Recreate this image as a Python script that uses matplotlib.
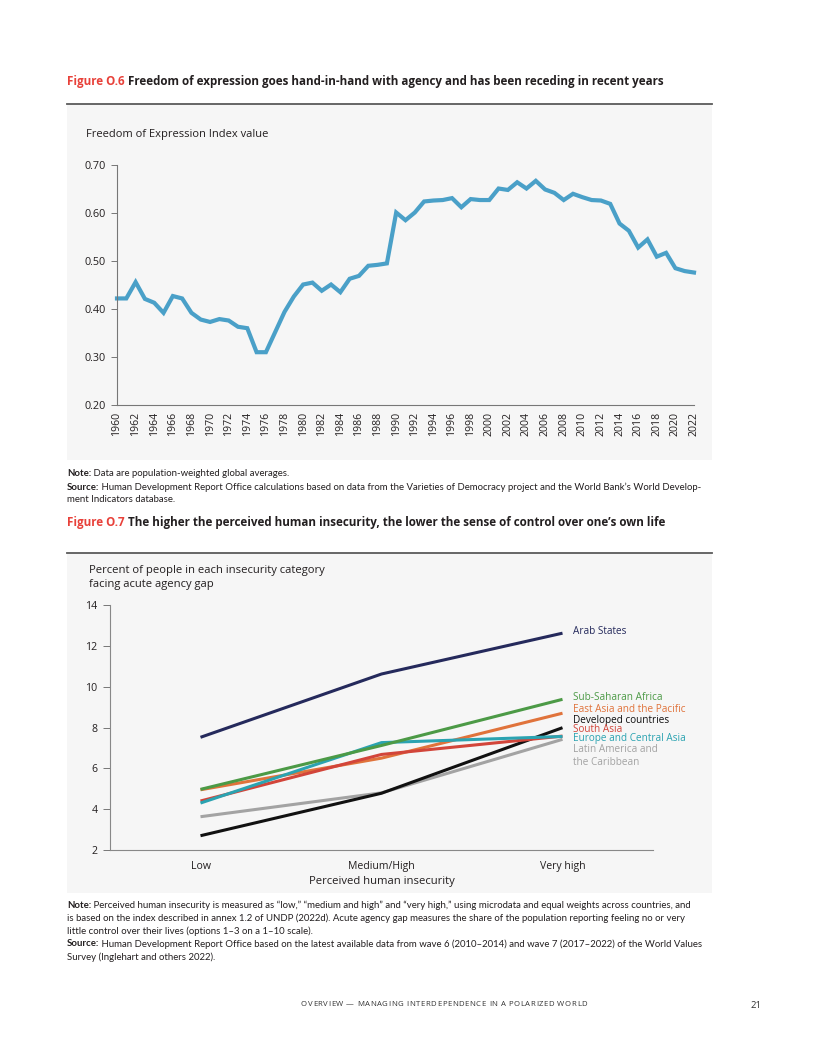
import numpy as np
import matplotlib as mpl; mpl.use("Agg")
import matplotlib.pyplot as plt
from matplotlib.patches import Rectangle
from matplotlib.lines import Line2D

mpl.rcParams.update({"font.family": ["Open Sans", "DejaVu Sans"], "axes.linewidth": 0.8})
NOTE_FONT = ["Lato", "DejaVu Sans"]

W, H = 816, 1056

# --- Figure O.6 data ---
YEARS = list(range(1960, 2023))
FOE = [0.422, 0.422, 0.456, 0.421, 0.413, 0.392, 0.427, 0.422, 0.392, 0.378,
       0.373, 0.379, 0.376, 0.363, 0.360, 0.310, 0.310, 0.352, 0.394, 0.426,
       0.451, 0.455, 0.438, 0.451, 0.435, 0.463, 0.469, 0.490, 0.492, 0.495,
       0.601, 0.585, 0.601, 0.624, 0.626, 0.627, 0.631, 0.612, 0.629, 0.627,
       0.627, 0.651, 0.648, 0.664, 0.651, 0.667, 0.649, 0.642, 0.627, 0.640,
       0.633, 0.627, 0.626, 0.619, 0.578, 0.563, 0.528, 0.545, 0.509, 0.517,
       0.485, 0.479, 0.476]
FOE_YTICKS = [0.20, 0.30, 0.40, 0.50, 0.60, 0.70]

# --- Figure O.7 data ---
CATS = ["Low", "Medium/High", "Very high"]
REGIONS = ["Arab States", "Sub-Saharan Africa", "East Asia and the Pacific",
           "Developed countries", "South Asia", "Europe and Central Asia",
           "Latin America and\nthe Caribbean"]
ARAB = [7.52, 10.62, 12.62]
SSA = [4.97, 7.12, 9.38]
EAP = [4.95, 6.50, 8.70]
DEV = [2.70, 4.78, 7.99]
SAS = [4.40, 6.68, 7.58]
ECA = [4.30, 7.26, 7.56]
LAC = [3.63, 4.80, 7.42]
REGION_COLORS = ["#252a5c", "#4c9a46", "#e0733b", "#111111", "#d2453a", "#2ba3b1", "#a3a3a3"]
LABEL_Y = [632, 697, 709, 720, 730, 739, 756]   # label centres, px

RED = "#e8413a"
DARK = "#231f20"


def fx(x): return x / W
def fy(y): return 1 - y / H


fig = plt.figure(figsize=(W / 100, H / 100), dpi=100)
fig.patch.set_facecolor("white")
R = fig.canvas.get_renderer()


def runs(x, y, parts, size, family=None, va="center"):
    """draw consecutive text runs [(text, weight, color)] starting at pixel x"""
    cx = x
    for txt, wt, col in parts:
        kw = {"family": family} if family else {}
        t = fig.text(fx(cx), fy(y), txt, fontsize=size, fontweight=wt, color=col,
                     ha="left", va=va, **kw)
        cx += t.get_window_extent(renderer=R).width
    return cx


def tracked(xc, y, s, size, track, color):
    """letter-spaced text centred at pixel xc"""
    ts = [fig.text(0, fy(y), ch, fontsize=size, color=color, ha="left", va="center") for ch in s]
    ws = [t.get_window_extent(renderer=R).width if ch != " " else size * 0.35 for t, ch in zip(ts, s)]
    total = sum(ws) + track * (len(s) - 1)
    cx = xc - total / 2
    for t, w in zip(ts, ws):
        t.set_x(fx(cx)); cx += w + track


def panel(y0, y1):
    fig.add_artist(Rectangle((fx(67), fy(y1)), fx(712) - fx(67), fy(y0) - fy(y1),
                             transform=fig.transFigure, fc="#f6f6f6", ec="none", zorder=0))
    fig.add_artist(Line2D([fx(67), fx(712)], [fy(y0), fy(y0)], transform=fig.transFigure,
                          color="#5a5a5a", lw=1.3))


# ---------------- Figure O.6 ----------------
runs(67, 81, [("Figure O.6 ", "bold", RED),
              ("Freedom of expression goes hand-in-hand with agency and has been receding in recent years", "bold", DARK)], 8.4)
panel(104, 460)
fig.text(fx(86), fy(135), "Freedom of Expression Index value", fontsize=8.0, color=DARK, va="center")

ax1 = fig.add_axes([fx(117), fy(405), fx(694) - fx(117), fy(165) - fy(405)])
ax1.set_facecolor("none")
ax1.plot(YEARS, FOE, color="#4aa0c8", lw=3.0, solid_joinstyle="miter", clip_on=False)
ax1.set_xlim(1960, 2022)
ax1.set_ylim(0.20, 0.70)
ax1.set_yticks(FOE_YTICKS)
ax1.set_yticklabels([f"{v:.2f}" for v in FOE_YTICKS], fontsize=7.8, color=DARK)
ax1.set_xticks(YEARS[::2])
ax1.set_xticklabels([str(y) for y in YEARS[::2]], rotation=90, fontsize=7.6, color=DARK)
ax1.tick_params(axis="x", length=0, pad=5)
ax1.tick_params(axis="y", length=4, width=0.7, color="#777", pad=4)
for s in ["top", "right"]:
    ax1.spines[s].set_visible(False)
for s in ["left", "bottom"]:
    ax1.spines[s].set_color("#777")

runs(67, 474, [("Note:", "bold", DARK), (" Data are population-weighted global averages.", "normal", DARK)], 6.9, NOTE_FONT)
runs(67, 487, [("Source:", "bold", DARK), (" Human Development Report Office calculations based on data from the Varieties of Democracy project and the World Bank\u2019s World Develop-", "normal", DARK)], 6.9, NOTE_FONT)
runs(67, 499, [("ment Indicators database.", "normal", DARK)], 6.9, NOTE_FONT)

# ---------------- Figure O.7 ----------------
runs(67, 522, [("Figure O.7 ", "bold", RED),
               ("The higher the perceived human insecurity, the lower the sense of control over one\u2019s own life", "bold", DARK)], 8.4)
panel(553, 893)
fig.text(fx(89), fy(571), "Percent of people in each insecurity category", fontsize=8.1, color=DARK, va="center")
fig.text(fx(89), fy(584), "facing acute agency gap", fontsize=8.1, color=DARK, va="center")

ax2 = fig.add_axes([fx(110), fy(850), fx(653) - fx(110), fy(605) - fy(850)])
ax2.set_facecolor("none")
series = [ARAB, SSA, EAP, DEV, SAS, ECA, LAC]
draw_order = [6, 3, 2, 4, 5, 1, 0]
xs = np.arange(len(CATS))
for i in draw_order:
    ax2.plot(xs, series[i], color=REGION_COLORS[i], lw=2.2, solid_capstyle="butt")
ax2.set_xlim(-0.5, 2.5)
ax2.set_ylim(2, 14)
ax2.set_yticks(range(2, 15, 2))
ax2.set_yticklabels([str(v) for v in range(2, 15, 2)], fontsize=7.6, color=DARK)
ax2.set_xticks(xs)
ax2.set_xticklabels(CATS, fontsize=7.6, color=DARK)
ax2.tick_params(axis="x", length=0, pad=8)
ax2.tick_params(axis="y", length=5, width=0.7, color="#777", pad=4)
for s in ["top", "right"]:
    ax2.spines[s].set_visible(False)
for s in ["left", "bottom"]:
    ax2.spines[s].set_color("#888")
ax2.set_xlabel("Perceived human insecurity", fontsize=8.1, color=DARK, labelpad=3)

for name, col, ly in zip(REGIONS, REGION_COLORS, LABEL_Y):
    fig.text(fx(573), fy(ly), name, fontsize=7.2, color=col, va="center", ha="left",
             linespacing=1.35)

notes = [
    [("Note:", "bold"), (" Perceived human insecurity is measured as \u201clow,\u201d \u201cmedium and high\u201d and \u201cvery high,\u201d using microdata and equal weights across countries, and", "normal")],
    [("is based on the index described in annex 1.2 of UNDP (2022d). Acute agency gap measures the share of the population reporting feeling no or very", "normal")],
    [("little control over their lives (options 1\u20133 on a 1\u201310 scale).", "normal")],
    [("Source:", "bold"), (" Human Development Report Office based on the latest available data from wave 6 (2010\u20132014) and wave 7 (2017\u20132022) of the World Values", "normal")],
    [("Survey (Inglehart and others 2022).", "normal")],
]
for k, parts in enumerate(notes):
    runs(67, 905 + 13 * k, [(t, w, DARK) for t, w in parts], 6.9, NOTE_FONT)

tracked(444, 1005, "OVERVIEW \u2014 MANAGING INTERDEPENDENCE IN A POLARIZED WORLD", 5.6, 0.6, "#333")
fig.text(fx(756), fy(1005), "21", fontsize=6.8, color="#333", ha="center", va="center")

fig.savefig("out.png", dpi=100)
